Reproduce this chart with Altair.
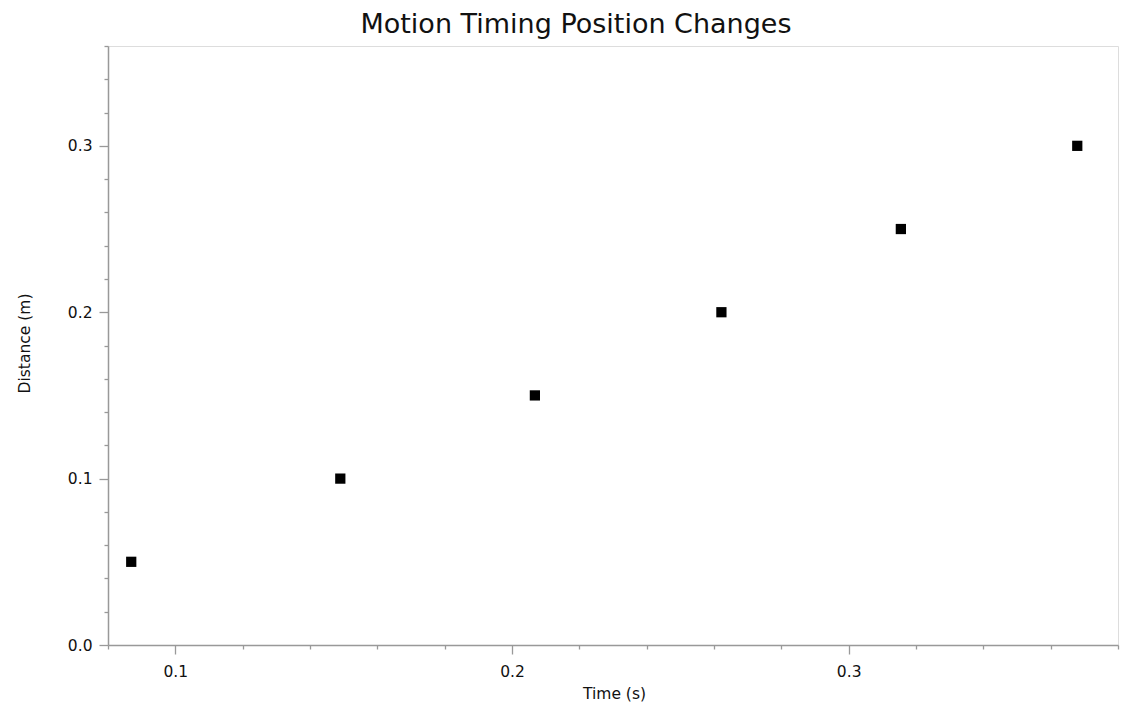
import altair as alt
import pandas as pd

time_s = [0.0869, 0.149, 0.2068, 0.2622, 0.3155, 0.3679]
distance_m = [0.05, 0.10, 0.15, 0.20, 0.25, 0.30]
x_ticks = [0.08, 0.10, 0.12, 0.14, 0.16, 0.18, 0.20, 0.22, 0.24, 0.26, 0.28, 0.30, 0.32, 0.34, 0.36, 0.38]
y_ticks = [0.00, 0.02, 0.04, 0.06, 0.08, 0.10, 0.12, 0.14, 0.16, 0.18, 0.20, 0.22, 0.24, 0.26, 0.28, 0.30, 0.32, 0.34, 0.36]

df = pd.DataFrame({"time": time_s, "distance": distance_m})

major_test = "abs(datum.value*10 - round(datum.value*10)) < 0.000001"
FONT = "DejaVu Sans"

def axis(title, values, **kw):
    return alt.Axis(
        title=title,
        values=values,
        grid=False,
        domainColor="#999999",
        domainWidth=1.5,
        tickColor="#999999",
        tickWidth=1.3,
        tickSize={"condition": {"test": major_test, "value": 9}, "value": 4},
        labelExpr=f"({major_test}) ? format(datum.value, '.1f') : ''",
        labelFont=FONT,
        labelFontSize=15.5,
        labelColor="#111111",
        titleFont=FONT,
        titleFontSize=15.5,
        titleFontWeight="normal",
        titleColor="#111111",
        titleBaseline="alphabetic",
        labelFlush=False,
        labelOverlap=False,
        **kw,
    )

chart = alt.Chart(df).mark_square(size=105, color="black", opacity=1).encode(
    x=alt.X("time:Q", scale=alt.Scale(domain=[0.08, 0.38], nice=False, zero=False),
            axis=axis("Time (s)", x_ticks, labelPadding=10, titleY=53, titleX=506)),
    y=alt.Y("distance:Q", scale=alt.Scale(domain=[0, 0.36], nice=False),
            axis=axis("Distance (m)", y_ticks, labelPadding=7, titleX=-79, titleY=297)),
).properties(
    width=1010,
    height=599,
    title=alt.TitleParams("Motion Timing Position Changes", font=FONT, fontSize=27,
                          fontWeight="normal", color="#111111", dx=-37, offset=0),
    autosize=alt.AutoSizeParams(type="none"),
    padding={"left": 100, "top": 38, "right": 17, "bottom": 57},
).configure_view(stroke="#999999", strokeWidth=1.5).configure(background="white")

chart.save("out.html", embed_options={"renderer": "svg", "actions": False})
